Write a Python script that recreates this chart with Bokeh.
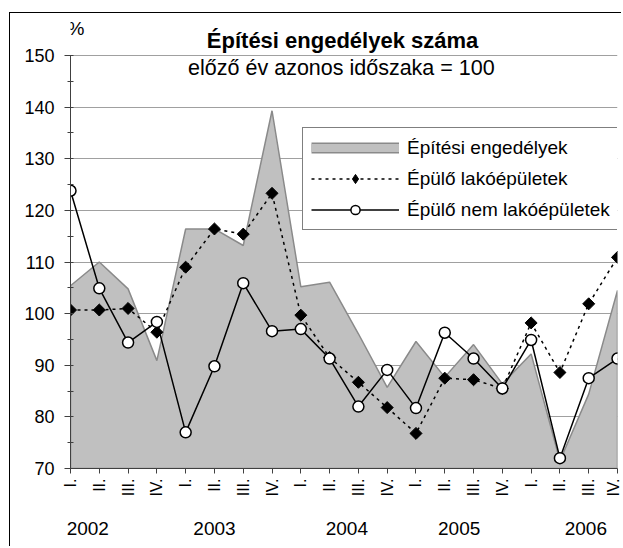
import numpy as np
from bokeh.plotting import figure
from bokeh.models import (Range1d, FixedTicker, SingleIntervalTicker, LinearAxis,
                          Label, Legend, LegendItem)
from bokeh.embed import file_html
from bokeh.resources import INLINE

# ---- data ----
quarters = ["I.", "II.", "III.", "IV."] * 5
years = ["2002", "2003", "2004", "2005", "2006"]
epitesi = [105.4, 110.0, 104.8, 90.9, 116.4, 116.4, 113.2, 139.3, 105.2, 106.1,
           96.1, 85.7, 94.6, 87.7, 94.0, 86.4, 92.2, 71.5, 84.4, 104.5]
lako = [100.7, 100.7, 101.0, 96.4, 109.0, 116.4, 115.4, 123.3, 99.7, 91.5,
        86.7, 81.8, 76.8, 87.5, 87.2, 85.5, 98.2, 88.6, 101.9, 110.9]
nemlako = [123.8, 104.9, 94.4, 98.4, 77.0, 89.8, 105.9, 96.6, 97.0, 91.3,
           82.0, 89.1, 81.7, 96.3, 91.3, 85.5, 94.9, 72.0, 87.5, 91.3]
series_names = ["Építési engedélyek", "Épülő lakóépületek", "Épülő nem lakóépületek"]
title_text = "Építési engedélyek száma"
subtitle_text = "előző év azonos időszaka = 100"
unit_text = "%"

# layout helpers (label positions for the year row, in quarter index units)
year_label_x = [0.6, 5.0, 9.6, 13.5, 17.9]

FONT = "Liberation Sans"
x = list(range(len(quarters)))
ymin, ymax = 70, 150
ytop = 157.75  # headroom above the axis for title texts

p = figure(width=612, height=534, x_range=Range1d(0, len(x) - 1), y_range=Range1d(ymin, ytop),
           output_backend="svg", toolbar_location=None,
           min_border_left=60, min_border_right=5, min_border_top=2, min_border_bottom=79)
p.margin = (12, 0, 0, 9)
p.styles = {"border-left": "1px solid #000", "border-top": "1px solid #000"}
p.outline_line_color = None
p.background_fill_color = "white"
p.border_fill_color = "white"

# grid
p.xgrid.grid_line_color = None
p.ygrid.grid_line_color = "#a0a0a0"
p.ygrid.grid_line_width = 1

# area
ax = x + [x[-1], x[0]]
ay = epitesi + [ymin, ymin]
area = p.patch(ax, ay, fill_color="#c0c0c0", line_color="#8a8a8a", line_width=1.5)
# legend-only swatch for the area series
sw_border = p.line(x, epitesi, line_color="#8a8a8a", line_width=11, visible=False)
sw_fill = p.line(x, epitesi, line_color="#c0c0c0", line_width=8, visible=False)

# lakóépületek
l1 = p.line(x, lako, line_color="black", line_width=1.5, line_dash="3 4")
m1 = p.scatter(x, lako, marker="square", angle=np.pi / 4, size=8.5,
               fill_color="black", line_color="black")
m1_leg = p.scatter(x, lako, marker="diamond", size=12, fill_color="black",
                   line_color="black", visible=False)

# nem lakóépületek
l2 = p.line(x, nemlako, line_color="black", line_width=1.5)
m2 = p.scatter(x, nemlako, marker="circle", size=11, fill_color="white",
               line_color="black", line_width=1.5)

# y axis
yax = p.yaxis[0]
yax.ticker = SingleIntervalTicker(interval=10, num_minor_ticks=2)
yax.bounds = (ymin, ymax)
yax.axis_line_color = "#404040"
yax.major_tick_line_color = "#404040"
yax.minor_tick_line_color = "#404040"
yax.major_tick_out = 6
yax.major_tick_in = 0
yax.minor_tick_out = 3
yax.minor_tick_in = 3
yax.major_label_standoff = 10
yax.major_label_text_font = FONT
yax.major_label_text_font_size = "18px"
yax.major_label_text_color = "black"

# x axis (quarters)
xax = p.xaxis[0]
xax.ticker = FixedTicker(ticks=x)
xax.major_label_overrides = {i: q for i, q in enumerate(quarters)}
xax.major_label_orientation = np.pi / 2
xax.axis_line_color = "#404040"
xax.major_tick_line_color = "#404040"
xax.major_tick_out = 5
xax.major_tick_in = 0
xax.minor_tick_line_color = None
xax.major_label_standoff = 5
xax.major_label_text_font = FONT
xax.major_label_text_font_size = "16px"
xax.major_label_text_color = "black"

# x axis (years)
yr = LinearAxis(ticker=FixedTicker(ticks=year_label_x),
                major_label_overrides={xx: yv for xx, yv in zip(year_label_x, years)})
yr.axis_line_color = None
yr.major_tick_line_color = None
yr.minor_tick_line_color = None
yr.major_tick_out = 0
yr.major_tick_in = 0
yr.major_label_standoff = 22
yr.major_label_text_font = FONT
yr.major_label_text_font_size = "19px"
yr.major_label_text_color = "black"
p.add_layout(yr, "below")

# titles
p.add_layout(Label(x=9.45, y=152.9, text=title_text, text_font=FONT, text_font_size="22px",
                   text_font_style="bold", text_align="center", text_baseline="middle",
                   text_color="black"))
p.add_layout(Label(x=9.41, y=147.5, text=subtitle_text, text_font=FONT, text_font_size="21.5px",
                   text_align="center", text_baseline="middle", text_color="black"))
p.add_layout(Label(x=0.19, y=155.3, text=unit_text, text_font=FONT, text_font_size="19px",
                   text_align="center", text_baseline="middle", text_color="black"))

legend = Legend(items=[
    LegendItem(label=series_names[0], renderers=[sw_border, sw_fill]),
    LegendItem(label=series_names[1], renderers=[l1, m1_leg]),
    LegendItem(label=series_names[2], renderers=[l2, m2]),
], location=(232, 238))
legend.padding = 8
legend.spacing = 8
legend.margin = 0
legend.glyph_width = 88
legend.glyph_height = 23
legend.label_height = 21
legend.label_standoff = 8
legend.label_text_font = FONT
legend.label_text_font_size = "19px"
legend.label_text_color = "black"
legend.border_line_color = "black"
legend.border_line_width = 1
legend.background_fill_color = "white"
legend.background_fill_alpha = 1
p.add_layout(legend, "center")

open("out.html", "w").write(file_html(p, INLINE))
